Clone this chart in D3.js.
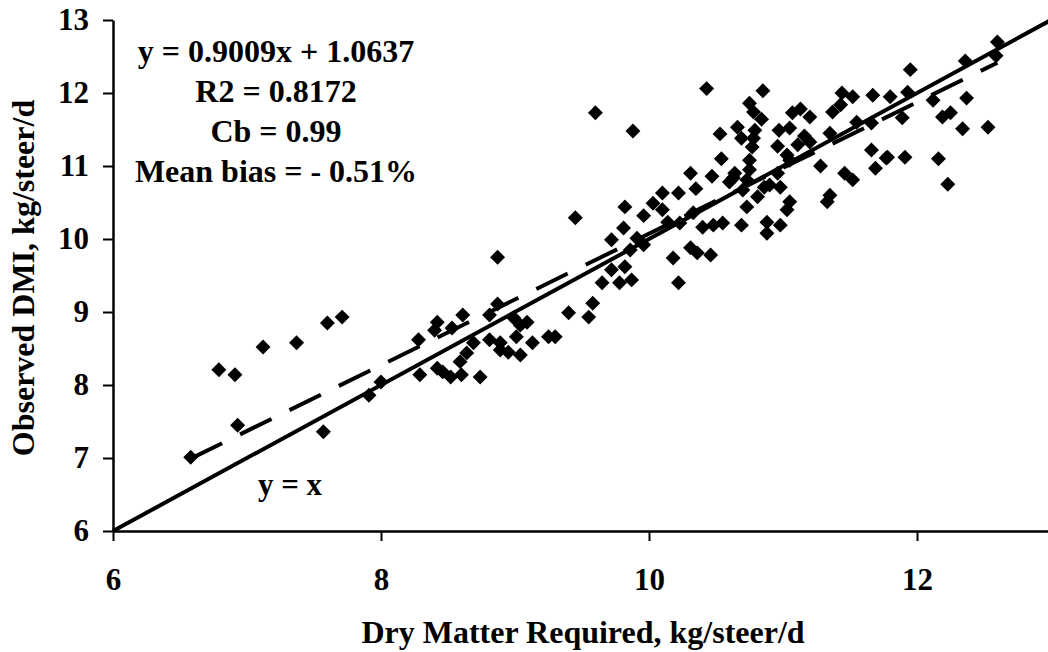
<!DOCTYPE html>
<html>
<head>
<meta charset="utf-8">
<script src="https://cdn.jsdelivr.net/npm/d3@7"></script>
<style>
  body { margin: 0; background: #fff; }
  svg { display: block; font-family: "Liberation Serif", "Times New Roman", serif; font-weight: bold; }
</style>
</head>
<body>
<div id="graphed"></div>
<script>
// observed vs required dry matter
const required = [6.58, 6.79, 6.91, 6.93, 7.12, 7.37, 7.60, 7.71, 7.57, 7.91, 8.00, 8.29, 8.28, 8.42, 8.40,
  8.53, 8.61, 8.42, 8.46, 8.52, 8.59, 8.64, 8.69, 8.60, 8.74, 8.81, 8.89, 8.95, 9.04, 9.13,
  9.01, 9.04, 9.09, 8.99, 8.87, 8.81, 8.87, 9.30, 9.40, 9.55, 9.58, 9.45, 9.65, 9.78, 9.87,
  9.72, 9.82, 9.81, 9.72, 9.91, 9.96, 9.86, 9.82, 9.96, 10.10, 10.03, 10.10, 10.22, 10.35, 10.31,
  10.47, 10.63, 10.14, 10.23, 10.33, 10.40, 10.48, 10.55, 10.31, 10.36, 10.46, 10.18, 10.22, 9.60, 9.88,
  10.43, 10.53, 10.54, 10.66, 10.85, 10.75, 10.78, 10.84, 10.79, 10.78, 10.77, 10.69, 10.96, 10.97, 11.05,
  11.07, 11.13, 11.20, 11.16, 11.03, 11.05, 11.35, 11.37, 11.44, 11.52, 11.67, 11.55, 11.66, 11.69, 11.77,
  11.28, 11.46, 11.52, 11.35, 11.33, 10.64, 10.60, 10.75, 10.75, 10.73, 10.70, 10.81, 10.73, 10.90, 10.98,
  10.96, 11.05, 11.03, 10.69, 10.88, 10.98, 10.88, 11.11, 11.20, 12.60, 12.59, 12.36, 11.95, 11.80, 11.93,
  12.37, 12.12, 12.19, 12.25, 11.89, 12.34, 12.53, 11.66, 11.78, 11.91, 12.16, 12.23, 11.43, 10.86, 8.89,
  9.25];
const observed = [7.01, 8.21, 8.14, 7.45, 8.52, 8.58, 8.85, 8.93, 7.36, 7.86, 8.04, 8.14, 8.62, 8.86, 8.75,
  8.78, 8.96, 8.23, 8.18, 8.11, 8.32, 8.44, 8.58, 8.14, 8.11, 8.62, 8.58, 8.45, 8.41, 8.58,
  8.66, 8.82, 8.86, 8.92, 9.11, 8.96, 9.75, 8.66, 8.99, 8.93, 9.12, 10.29, 9.40, 9.40, 9.44,
  9.58, 9.62, 10.15, 9.99, 10.01, 9.92, 9.85, 10.44, 10.32, 10.63, 10.49, 10.40, 10.63, 10.69, 10.90,
  10.86, 10.84, 10.23, 10.22, 10.36, 10.16, 10.19, 10.22, 9.88, 9.81, 9.78, 9.74, 9.40, 11.73, 11.48,
  12.06, 11.44, 11.10, 11.53, 12.03, 11.86, 11.74, 11.64, 11.49, 11.38, 11.26, 11.38, 11.27, 11.49, 11.52,
  11.73, 11.78, 11.67, 11.41, 11.15, 11.08, 11.45, 11.74, 12.00, 11.95, 11.97, 11.60, 11.22, 10.97, 11.11,
  11.00, 10.90, 10.81, 10.60, 10.51, 10.90, 10.78, 10.95, 11.08, 10.81, 10.67, 10.58, 10.44, 10.74, 10.71,
  10.90, 10.51, 10.40, 10.19, 10.23, 10.19, 10.08, 11.29, 11.33, 12.70, 12.51, 12.44, 12.32, 11.95, 12.01,
  11.93, 11.90, 11.67, 11.73, 11.66, 11.51, 11.53, 11.59, 11.12, 11.12, 11.10, 10.75, 11.84, 10.71, 8.48,
  8.66];

const xTicks = [6, 8, 10, 12];
const yTicks = [6, 7, 8, 9, 10, 11, 12, 13];
const fitText = ["y = 0.9009x + 1.0637", "R2 = 0.8172", "Cb = 0.99", "Mean bias = - 0.51%"];
const fitSlope = 0.9009, fitIntercept = 1.0637;

const points = required.map((r, i) => ({ req: r, obs: observed[i] }));

// dimensions
let margin = { top: 20, right: -3, bottom: 121, left: 113 },
  width = 1048 - margin.left - margin.right,
  height = 652 - margin.top - margin.bottom;

let x = d3.scaleLinear().domain([6, 13]).range([0, width]);
let y = d3.scaleLinear().domain([6, 13]).range([height, 0]);

let root = d3.select("#graphed").append("svg")
  .attr("width", 1048)
  .attr("height", 652);

let svg = root.append("g")
  .attr("transform", "translate(" + margin.left + "," + margin.top + ")");

// y = x line
svg.append("line")
  .attr("x1", x(6)).attr("y1", y(6))
  .attr("x2", x(13)).attr("y2", y(13))
  .attr("stroke", "#000")
  .attr("stroke-width", 4);

// regression line, over the range of the data
let xr = d3.extent(required);
svg.append("line")
  .attr("x1", x(xr[0])).attr("y1", y(fitSlope * xr[0] + fitIntercept))
  .attr("x2", x(xr[1])).attr("y2", y(fitSlope * xr[1] + fitIntercept))
  .attr("stroke", "#000")
  .attr("stroke-width", 4)
  .attr("stroke-dasharray", "35,20");

// points
svg.selectAll(".pt")
  .data(points)
  .enter().append("path")
  .attr("class", "pt")
  .attr("d", d3.symbol(d3.symbolSquare, 112))
  .attr("transform", d => "translate(" + x(d.req) + "," + y(d.obs) + ") rotate(45)")
  .attr("fill", "#000");

// axes
let xAxis = svg.append("g")
  .attr("transform", "translate(0," + height + ")")
  .call(d3.axisBottom(x).tickValues(xTicks).tickFormat(d3.format("d"))
    .tickSize(10).tickSizeOuter(0).tickPadding(27));

let yAxis = svg.append("g")
  .call(d3.axisLeft(y).tickValues(yTicks).tickFormat(d3.format("d"))
    .tickSize(10).tickSizeOuter(0).tickPadding(14));

[xAxis, yAxis].forEach(a => {
  a.attr("font-family", null).attr("font-size", 31);
  a.select(".domain").attr("stroke-width", 2.5);
  a.selectAll(".tick line").attr("stroke-width", 2);
  a.selectAll("text").attr("fill", "#000");
});

// annotation
svg.append("g").selectAll("text")
  .data(fitText)
  .enter().append("text")
  .attr("x", 276 - margin.left)
  .attr("y", (d, i) => 62 - margin.top + i * 40)
  .attr("text-anchor", "middle")
  .attr("font-size", 32)
  .text(d => d);

svg.append("text")
  .attr("x", 290 - margin.left)
  .attr("y", 495 - margin.top)
  .attr("text-anchor", "middle")
  .attr("font-size", 31)
  .text("y = x");

// axis titles
root.append("text")
  .attr("x", 583)
  .attr("y", 643)
  .attr("text-anchor", "middle")
  .attr("font-size", 32)
  .text("Dry Matter Required, kg/steer/d");

root.append("text")
  .attr("transform", "translate(34,278) rotate(-90)")
  .attr("text-anchor", "middle")
  .attr("font-size", 32)
  .text("Observed DMI, kg/steer/d");
</script>
</body>
</html>
